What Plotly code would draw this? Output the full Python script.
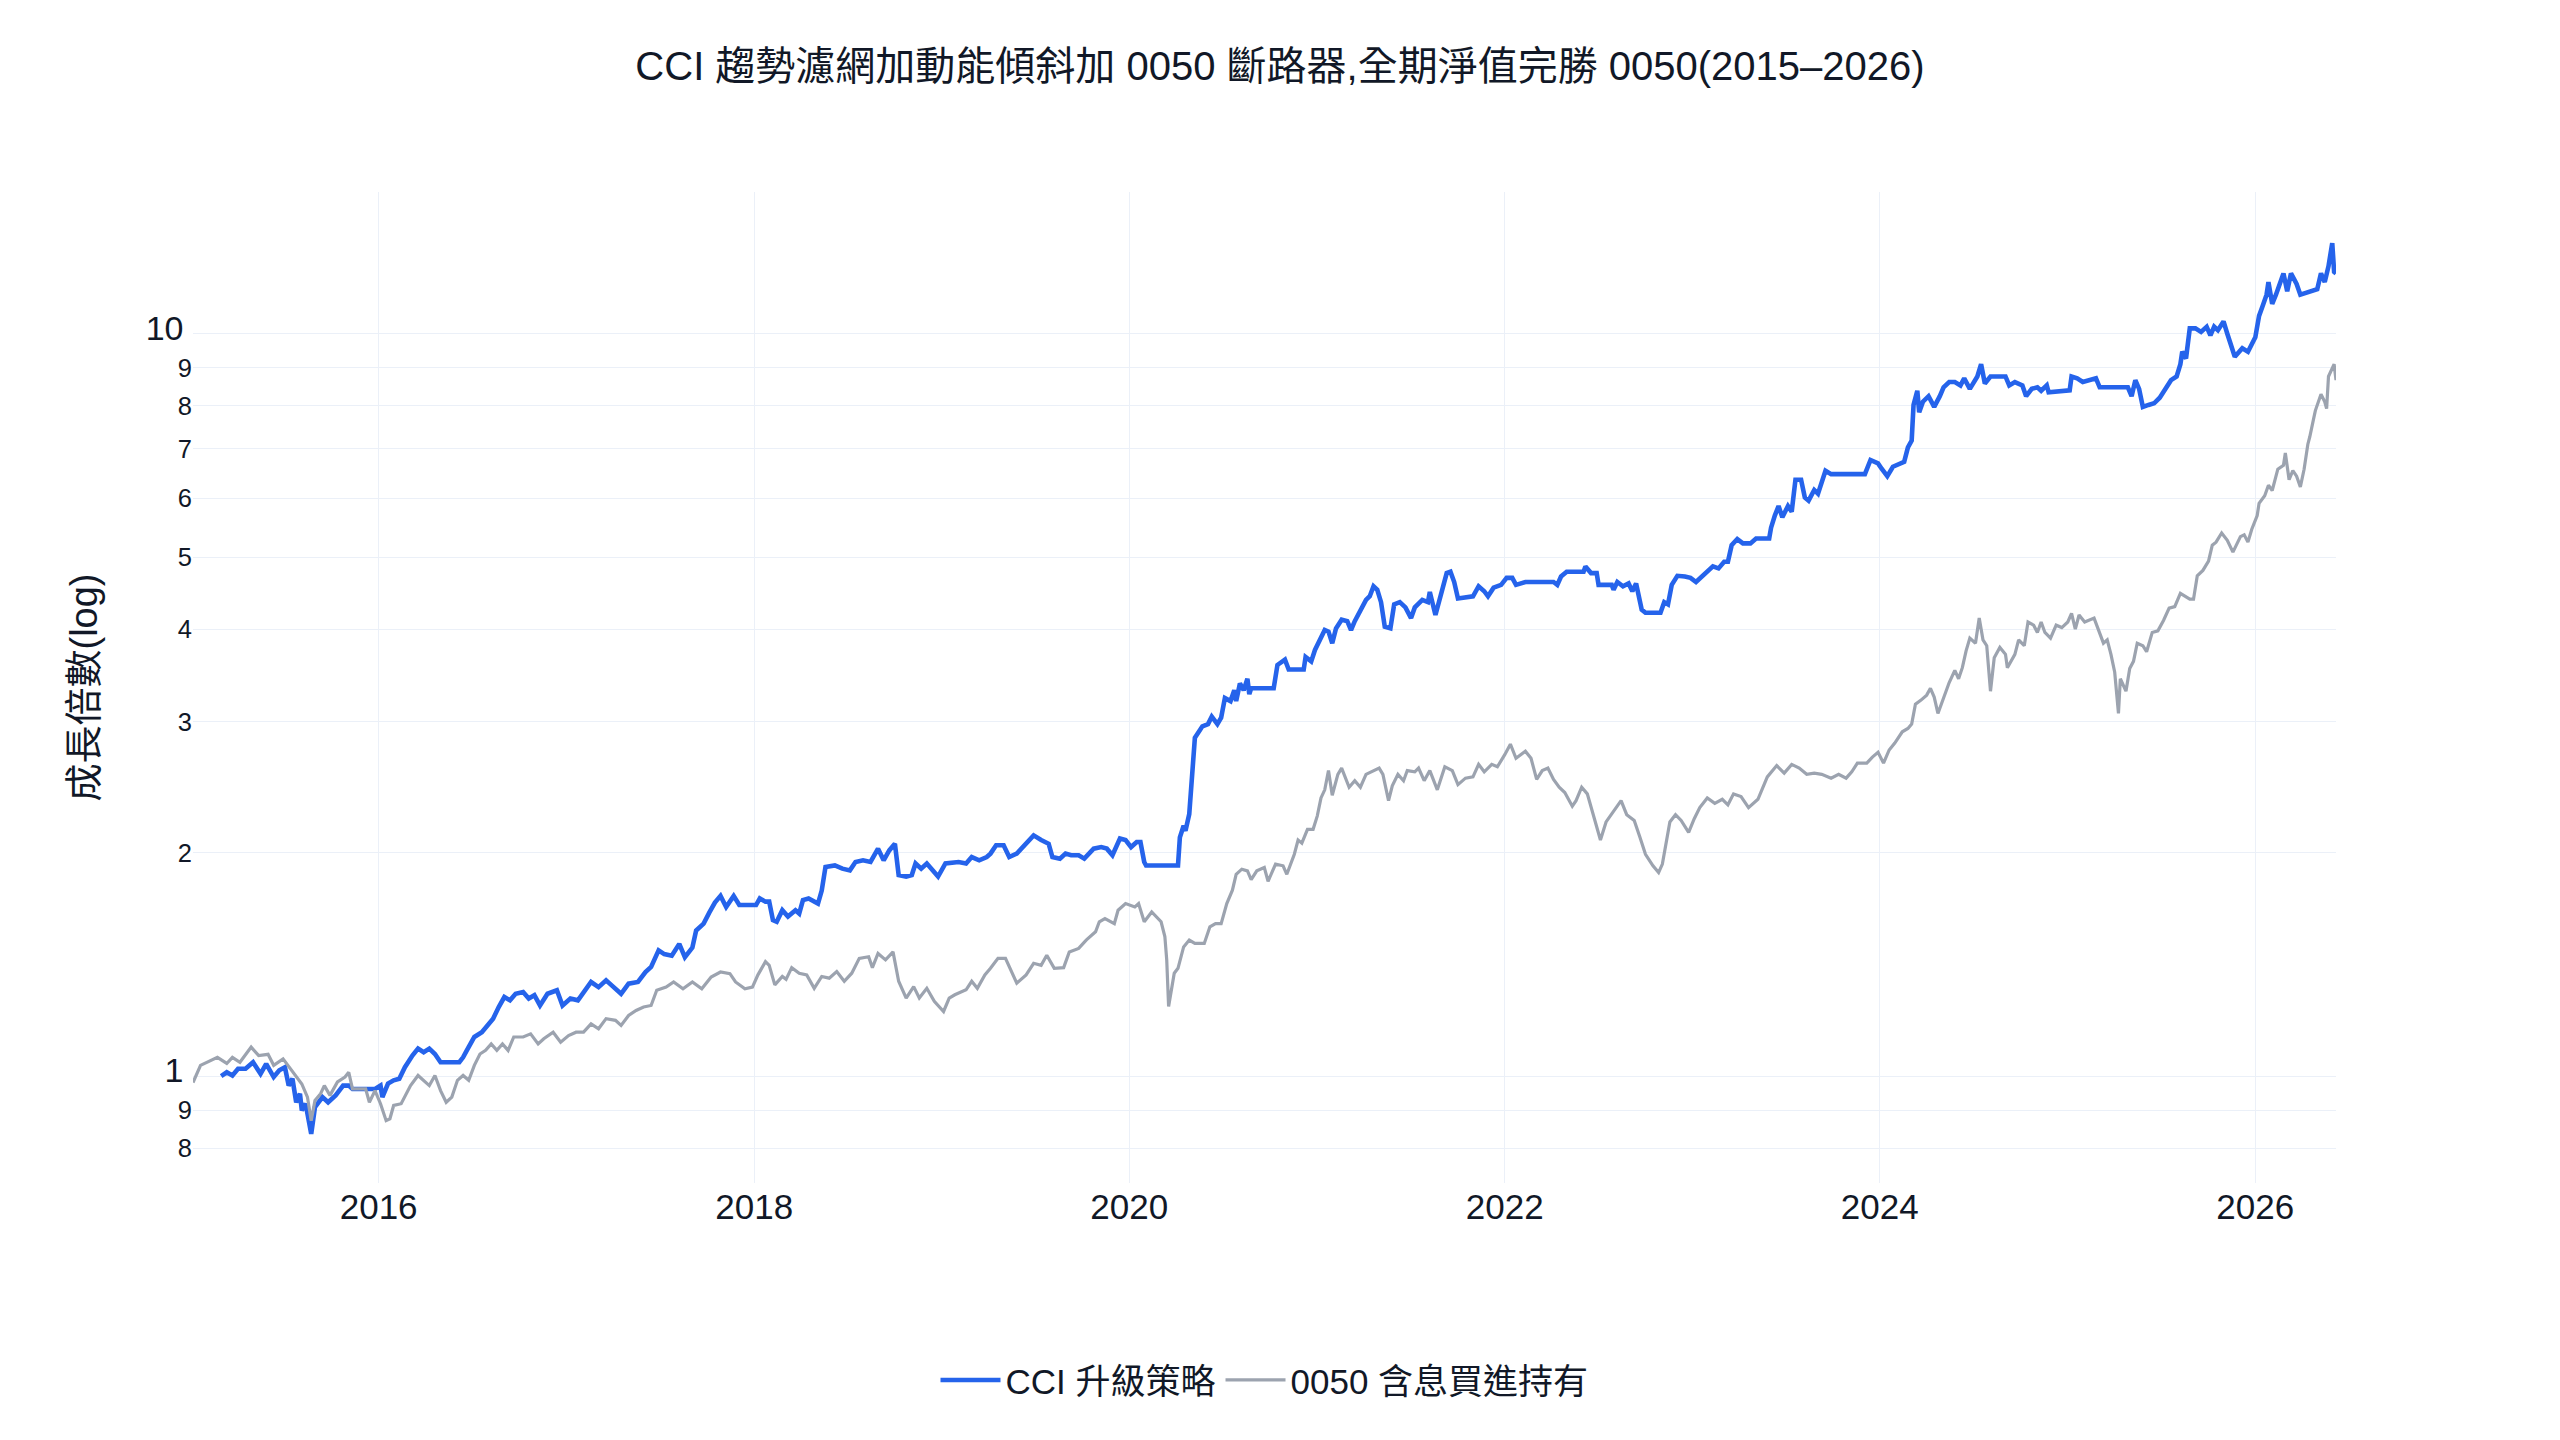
import datetime as dt

import plotly.graph_objects as go

# 時間以「十進位年份」記錄,數值為成長倍數(起點 = 1)
cci_t = [
    2015.16, 2015.19, 2015.22, 2015.25, 2015.29, 2015.33, 2015.37, 2015.40, 2015.44, 2015.47,
    2015.50, 2015.52, 2015.54, 2015.56, 2015.58, 2015.59, 2015.61, 2015.64, 2015.66, 2015.70,
    2015.73, 2015.77, 2015.81, 2015.84, 2015.86, 2015.98, 2016.01, 2016.02, 2016.05, 2016.08,
    2016.11, 2016.14, 2016.18, 2016.21, 2016.24, 2016.27, 2016.30, 2016.33, 2016.43, 2016.45,
    2016.47, 2016.51, 2016.55, 2016.58, 2016.61, 2016.64, 2016.67, 2016.70, 2016.73, 2016.77,
    2016.80, 2016.83, 2016.86, 2016.90, 2016.95, 2016.98, 2017.02, 2017.06, 2017.10, 2017.13,
    2017.17, 2017.21, 2017.24, 2017.29, 2017.33, 2017.38, 2017.42, 2017.45, 2017.49, 2017.52,
    2017.56, 2017.60, 2017.63, 2017.67, 2017.69, 2017.73, 2017.76, 2017.79, 2017.82, 2017.85,
    2017.89, 2017.92, 2018.01, 2018.03, 2018.06, 2018.08, 2018.10, 2018.12, 2018.15, 2018.18,
    2018.22, 2018.24, 2018.26, 2018.29, 2018.34, 2018.36, 2018.38, 2018.43, 2018.47, 2018.51,
    2018.54, 2018.58, 2018.62, 2018.66, 2018.69, 2018.72, 2018.75, 2018.77, 2018.81, 2018.84,
    2018.86, 2018.89, 2018.92, 2018.95, 2018.98, 2019.02, 2019.06, 2019.09, 2019.13, 2019.16,
    2019.20, 2019.24, 2019.26, 2019.29, 2019.33, 2019.36, 2019.40, 2019.44, 2019.46, 2019.49,
    2019.53, 2019.57, 2019.59, 2019.63, 2019.66, 2019.69, 2019.73, 2019.76, 2019.81, 2019.85,
    2019.88, 2019.91, 2019.95, 2019.98, 2020.01, 2020.04, 2020.06, 2020.08, 2020.09, 2020.26,
    2020.27, 2020.29, 2020.30, 2020.32, 2020.35, 2020.37, 2020.39, 2020.42, 2020.44, 2020.47,
    2020.49, 2020.51, 2020.54, 2020.56, 2020.57, 2020.59, 2020.61, 2020.63, 2020.64, 2020.65,
    2020.77, 2020.79, 2020.83, 2020.85, 2020.93, 2020.94, 2020.97, 2020.99, 2021.02, 2021.04,
    2021.06, 2021.08, 2021.10, 2021.13, 2021.16, 2021.18, 2021.20, 2021.23, 2021.26, 2021.28,
    2021.30, 2021.32, 2021.34, 2021.36, 2021.39, 2021.41, 2021.44, 2021.47, 2021.50, 2021.52,
    2021.56, 2021.59, 2021.60, 2021.63, 2021.66, 2021.69, 2021.71, 2021.73, 2021.75, 2021.83,
    2021.86, 2021.89, 2021.91, 2021.94, 2021.98, 2022.01, 2022.04, 2022.06, 2022.11, 2022.26,
    2022.28, 2022.30, 2022.33, 2022.42, 2022.43, 2022.46, 2022.49, 2022.50, 2022.57, 2022.58,
    2022.60, 2022.63, 2022.66, 2022.68, 2022.70, 2022.71, 2022.73, 2022.75, 2022.83, 2022.85,
    2022.87, 2022.89, 2022.92, 2022.96, 2022.99, 2023.02, 2023.05, 2023.08, 2023.11, 2023.14,
    2023.17, 2023.19, 2023.21, 2023.24, 2023.27, 2023.31, 2023.34, 2023.41, 2023.42, 2023.44,
    2023.46, 2023.48, 2023.51, 2023.53, 2023.55, 2023.58, 2023.60, 2023.62, 2023.65, 2023.67,
    2023.71, 2023.74, 2023.92, 2023.95, 2023.99, 2024.01, 2024.04, 2024.07, 2024.13, 2024.15,
    2024.17, 2024.18, 2024.20, 2024.21, 2024.23, 2024.26, 2024.29, 2024.32, 2024.34, 2024.37,
    2024.40, 2024.43, 2024.45, 2024.48, 2024.52, 2024.54, 2024.56, 2024.59, 2024.67, 2024.69,
    2024.72, 2024.76, 2024.78, 2024.81, 2024.84, 2024.86, 2024.89, 2024.90, 2025.01, 2025.02,
    2025.05, 2025.08, 2025.12, 2025.15, 2025.17, 2025.32, 2025.34, 2025.36, 2025.38, 2025.40,
    2025.43, 2025.46, 2025.49, 2025.53, 2025.55, 2025.58, 2025.60, 2025.61, 2025.63, 2025.65,
    2025.68, 2025.71, 2025.74, 2025.76, 2025.78, 2025.80, 2025.83, 2025.85, 2025.87, 2025.89,
    2025.93, 2025.96, 2026.00, 2026.02, 2026.04, 2026.06, 2026.07, 2026.09, 2026.11, 2026.15,
    2026.17, 2026.19, 2026.21, 2026.22, 2026.24, 2026.33, 2026.35, 2026.37, 2026.39, 2026.41,
    2026.42, 2026.43,
]
cci_v = [
    1.000, 1.012, 1.002, 1.023, 1.023, 1.044, 1.007, 1.039, 0.997, 1.018,
    1.028, 0.971, 0.992, 0.922, 0.947, 0.899, 0.918, 0.836, 0.908, 0.937,
    0.922, 0.942, 0.971, 0.971, 0.961, 0.961, 0.971, 0.937, 0.977, 0.987,
    0.992, 1.028, 1.066, 1.089, 1.077, 1.089, 1.071, 1.044, 1.044, 1.060,
    1.083, 1.129, 1.146, 1.170, 1.195, 1.239, 1.278, 1.265, 1.291, 1.298,
    1.272, 1.285, 1.245, 1.291, 1.305, 1.245, 1.272, 1.265, 1.305, 1.339,
    1.318, 1.346, 1.325, 1.291, 1.332, 1.339, 1.381, 1.403, 1.477, 1.460,
    1.453, 1.507, 1.446, 1.490, 1.571, 1.605, 1.660, 1.713, 1.749, 1.690,
    1.749, 1.700, 1.700, 1.735, 1.718, 1.718, 1.622, 1.614, 1.673, 1.640,
    1.673, 1.656, 1.726, 1.735, 1.708, 1.778, 1.913, 1.922, 1.903, 1.893,
    1.943, 1.953, 1.943, 2.025, 1.953, 2.014, 2.056, 1.866, 1.857, 1.866,
    1.934, 1.903, 1.934, 1.893, 1.857, 1.934, 1.943, 1.943, 1.934, 1.973,
    1.953, 1.973, 1.994, 2.046, 2.046, 1.973, 1.994, 2.046, 2.080, 2.110,
    2.080, 2.056, 1.973, 1.963, 1.994, 1.984, 1.984, 1.963, 2.025, 2.035,
    2.025, 1.984, 2.090, 2.080, 2.035, 2.067, 2.067, 1.943, 1.922, 1.922,
    2.097, 2.174, 2.140, 2.254, 2.856, 2.900, 2.960, 2.980, 3.050, 2.980,
    3.040, 3.230, 3.200, 3.310, 3.200, 3.380, 3.310, 3.430, 3.270, 3.330,
    3.330, 3.580, 3.640, 3.530, 3.530, 3.670, 3.620, 3.750, 3.890, 3.990,
    3.970, 3.830, 4.010, 4.120, 4.100, 3.990, 4.100, 4.230, 4.380, 4.430,
    4.570, 4.520, 4.350, 4.030, 4.010, 4.320, 4.350, 4.280, 4.140, 4.280,
    4.380, 4.350, 4.490, 4.180, 4.470, 4.760, 4.780, 4.630, 4.400, 4.430,
    4.570, 4.500, 4.430, 4.550, 4.590, 4.690, 4.690, 4.590, 4.630, 4.630,
    4.590, 4.710, 4.780, 4.780, 4.860, 4.760, 4.760, 4.590, 4.590, 4.520,
    4.630, 4.570, 4.610, 4.500, 4.610, 4.500, 4.250, 4.210, 4.210, 4.350,
    4.320, 4.590, 4.720, 4.710, 4.690, 4.630, 4.710, 4.780, 4.860, 4.830,
    4.930, 4.930, 5.190, 5.290, 5.220, 5.220, 5.300, 5.300, 5.480, 5.690,
    5.860, 5.660, 5.860, 5.760, 6.360, 6.360, 6.020, 5.960, 6.160, 6.090,
    6.540, 6.470, 6.470, 6.760, 6.690, 6.580, 6.430, 6.620, 6.720, 7.030,
    7.180, 8.020, 8.380, 7.840, 8.100, 8.240, 7.970, 8.240, 8.470, 8.610,
    8.610, 8.520, 8.710, 8.430, 8.760, 9.100, 8.570, 8.760, 8.760, 8.520,
    8.610, 8.520, 8.240, 8.430, 8.470, 8.380, 8.520, 8.340, 8.390, 8.760,
    8.710, 8.610, 8.660, 8.710, 8.470, 8.470, 8.240, 8.660, 8.430, 7.970,
    8.020, 8.060, 8.200, 8.520, 8.660, 8.760, 9.100, 9.460, 9.260, 10.17,
    10.17, 10.06, 10.22, 9.950, 10.22, 10.11, 10.39, 10.00, 9.670, 9.310,
    9.560, 9.460, 9.890, 10.57, 10.92, 11.29, 11.74, 10.97, 11.29, 12.06,
    11.41, 12.06, 11.80, 11.67, 11.29, 11.48, 12.06, 11.74, 12.33, 13.25,
    12.12, 12.06,
]

etf_t = [
    2015.01, 2015.05, 2015.14, 2015.19, 2015.22, 2015.26, 2015.32, 2015.36, 2015.41, 2015.44,
    2015.49, 2015.53, 2015.56, 2015.59, 2015.62, 2015.64, 2015.66, 2015.69, 2015.71, 2015.74,
    2015.78, 2015.82, 2015.84, 2015.86, 2015.90, 2015.93, 2015.95, 2015.98, 2016.01, 2016.04,
    2016.06, 2016.08, 2016.12, 2016.15, 2016.17, 2016.21, 2016.24, 2016.27, 2016.30, 2016.33,
    2016.36, 2016.39, 2016.42, 2016.45, 2016.48, 2016.51, 2016.54, 2016.57, 2016.60, 2016.63,
    2016.66, 2016.69, 2016.72, 2016.77, 2016.81, 2016.85, 2016.88, 2016.93, 2016.97, 2017.01,
    2017.05, 2017.09, 2017.13, 2017.17, 2017.21, 2017.26, 2017.29, 2017.33, 2017.37, 2017.41,
    2017.45, 2017.48, 2017.53, 2017.57, 2017.62, 2017.67, 2017.72, 2017.77, 2017.82, 2017.87,
    2017.90, 2017.95, 2017.99, 2018.02, 2018.06, 2018.08, 2018.11, 2018.15, 2018.17, 2018.20,
    2018.24, 2018.28, 2018.32, 2018.36, 2018.40, 2018.44, 2018.48, 2018.52, 2018.56, 2018.61,
    2018.63, 2018.66, 2018.70, 2018.74, 2018.77, 2018.81, 2018.85, 2018.88, 2018.92, 2018.96,
    2019.01, 2019.04, 2019.07, 2019.13, 2019.16, 2019.19, 2019.23, 2019.26, 2019.30, 2019.34,
    2019.40, 2019.45, 2019.49, 2019.53, 2019.56, 2019.60, 2019.65, 2019.68, 2019.73, 2019.77,
    2019.82, 2019.84, 2019.87, 2019.92, 2019.94, 2019.98, 2020.03, 2020.05, 2020.08, 2020.12,
    2020.17, 2020.19, 2020.20, 2020.21, 2020.24, 2020.26, 2020.29, 2020.32, 2020.35, 2020.40,
    2020.43, 2020.46, 2020.49, 2020.52, 2020.55, 2020.57, 2020.60, 2020.63, 2020.65, 2020.68,
    2020.72, 2020.74, 2020.78, 2020.82, 2020.84, 2020.88, 2020.90, 2020.92, 2020.95, 2020.98,
    2021.00, 2021.02, 2021.04, 2021.06, 2021.08, 2021.11, 2021.13, 2021.17, 2021.20, 2021.23,
    2021.26, 2021.31, 2021.33, 2021.35, 2021.38, 2021.40, 2021.43, 2021.46, 2021.48, 2021.52,
    2021.54, 2021.57, 2021.60, 2021.64, 2021.68, 2021.72, 2021.75, 2021.79, 2021.83, 2021.86,
    2021.89, 2021.93, 2021.96, 2022.00, 2022.03, 2022.06, 2022.11, 2022.14, 2022.17, 2022.20,
    2022.23, 2022.26, 2022.29, 2022.32, 2022.36, 2022.38, 2022.41, 2022.44, 2022.46, 2022.49,
    2022.51, 2022.54, 2022.58, 2022.62, 2022.65, 2022.69, 2022.72, 2022.75, 2022.79, 2022.82,
    2022.84, 2022.86, 2022.88, 2022.91, 2022.94, 2022.98, 2023.01, 2023.04, 2023.08, 2023.12,
    2023.16, 2023.19, 2023.22, 2023.26, 2023.30, 2023.35, 2023.40, 2023.45, 2023.49, 2023.53,
    2023.57, 2023.61, 2023.65, 2023.69, 2023.74, 2023.78, 2023.82, 2023.85, 2023.88, 2023.93,
    2023.96, 2023.99, 2024.02, 2024.05, 2024.08, 2024.12, 2024.15, 2024.17, 2024.19, 2024.22,
    2024.25, 2024.27, 2024.29, 2024.31, 2024.34, 2024.37, 2024.40, 2024.42, 2024.44, 2024.46,
    2024.48, 2024.51, 2024.53, 2024.55, 2024.57, 2024.59, 2024.61, 2024.64, 2024.67, 2024.68,
    2024.72, 2024.74, 2024.77, 2024.79, 2024.82, 2024.84, 2024.86, 2024.88, 2024.91, 2024.94,
    2024.97, 2025.00, 2025.02, 2025.04, 2025.06, 2025.09, 2025.14, 2025.17, 2025.19, 2025.21,
    2025.23, 2025.25, 2025.27, 2025.28, 2025.31, 2025.33, 2025.35, 2025.37, 2025.40, 2025.42,
    2025.45, 2025.48, 2025.51, 2025.54, 2025.57, 2025.60, 2025.62, 2025.65, 2025.67, 2025.69,
    2025.72, 2025.75, 2025.77, 2025.79, 2025.82, 2025.85, 2025.88, 2025.92, 2025.94, 2025.96,
    2025.98, 2026.01, 2026.02, 2026.05, 2026.07, 2026.09, 2026.12, 2026.15, 2026.16, 2026.18,
    2026.20, 2026.22, 2026.24, 2026.26, 2026.28, 2026.29, 2026.31, 2026.32, 2026.35, 2026.37,
    2026.38, 2026.39, 2026.42, 2026.43,
]
etf_v = [
    0.980, 1.034, 1.060, 1.040, 1.060, 1.044, 1.094, 1.066, 1.070, 1.034,
    1.055, 1.023, 0.997, 0.976, 0.937, 0.871, 0.927, 0.947, 0.971, 0.942,
    0.982, 0.997, 1.012, 0.961, 0.961, 0.961, 0.922, 0.956, 0.918, 0.871,
    0.876, 0.913, 0.918, 0.947, 0.971, 1.002, 0.987, 0.971, 1.002, 0.956,
    0.922, 0.937, 0.987, 1.002, 0.987, 1.034, 1.071, 1.083, 1.105, 1.083,
    1.105, 1.083, 1.129, 1.129, 1.140, 1.105, 1.123, 1.146, 1.111, 1.134,
    1.146, 1.146, 1.176, 1.158, 1.195, 1.189, 1.170, 1.207, 1.226, 1.239,
    1.245, 1.305, 1.318, 1.339, 1.311, 1.339, 1.311, 1.360, 1.381, 1.374,
    1.339, 1.311, 1.318, 1.369, 1.426, 1.410, 1.327, 1.362, 1.350, 1.400,
    1.376, 1.369, 1.313, 1.362, 1.355, 1.383, 1.342, 1.376, 1.441, 1.448,
    1.400, 1.463, 1.434, 1.470, 1.342, 1.274, 1.320, 1.274, 1.313, 1.261,
    1.222, 1.274, 1.287, 1.307, 1.342, 1.313, 1.369, 1.397, 1.441, 1.441,
    1.334, 1.369, 1.419, 1.410, 1.455, 1.397, 1.400, 1.470, 1.486, 1.525,
    1.565, 1.614, 1.630, 1.605, 1.673, 1.708, 1.690, 1.708, 1.614, 1.664,
    1.614, 1.542, 1.434, 1.241, 1.376, 1.397, 1.493, 1.525, 1.509, 1.509,
    1.589, 1.605, 1.605, 1.708, 1.780, 1.870, 1.900, 1.890, 1.840, 1.890,
    1.910, 1.830, 1.930, 1.920, 1.870, 1.990, 2.080, 2.060, 2.150, 2.150,
    2.240, 2.370, 2.430, 2.580, 2.390, 2.550, 2.600, 2.450, 2.500, 2.450,
    2.550, 2.590, 2.600, 2.550, 2.350, 2.460, 2.550, 2.500, 2.580, 2.570,
    2.600, 2.500, 2.580, 2.430, 2.610, 2.580, 2.470, 2.520, 2.530, 2.630,
    2.570, 2.630, 2.610, 2.710, 2.800, 2.680, 2.740, 2.680, 2.510, 2.580,
    2.600, 2.510, 2.450, 2.410, 2.310, 2.350, 2.450, 2.400, 2.300, 2.160,
    2.080, 2.200, 2.270, 2.350, 2.250, 2.210, 2.100, 1.990, 1.920, 1.880,
    1.930, 2.050, 2.200, 2.250, 2.210, 2.130, 2.220, 2.300, 2.370, 2.330,
    2.360, 2.320, 2.400, 2.380, 2.300, 2.360, 2.530, 2.620, 2.560, 2.630,
    2.600, 2.550, 2.560, 2.550, 2.520, 2.550, 2.520, 2.570, 2.640, 2.640,
    2.690, 2.730, 2.640, 2.750, 2.810, 2.910, 2.940, 2.980, 3.170, 3.210,
    3.260, 3.330, 3.240, 3.080, 3.240, 3.390, 3.520, 3.430, 3.550, 3.740,
    3.890, 3.830, 4.140, 3.870, 3.800, 3.300, 3.660, 3.780, 3.700, 3.550,
    3.700, 3.870, 3.800, 4.090, 4.050, 3.960, 4.090, 3.960, 3.890, 4.050,
    4.020, 4.090, 4.200, 4.000, 4.180, 4.090, 4.140, 3.960, 3.830, 3.870,
    3.700, 3.500, 3.080, 3.430, 3.300, 3.540, 3.620, 3.830, 3.800, 3.730,
    3.960, 3.980, 4.110, 4.270, 4.290, 4.470, 4.440, 4.390, 4.390, 4.720,
    4.800, 4.940, 5.190, 5.240, 5.390, 5.270, 5.080, 5.330, 5.360, 5.240,
    5.450, 5.690, 5.910, 6.050, 6.250, 6.150, 6.570, 6.650, 6.910, 6.360,
    6.540, 6.430, 6.220, 6.570, 7.100, 7.260, 7.670, 7.880, 8.290, 8.100,
    7.930, 8.760, 9.100, 8.660,
]


def to_date(t):
    # 十進位年份 -> 日期
    year = int(t)
    return dt.datetime(year, 1, 1) + dt.timedelta(days=(t - year) * 365.25)


FONT = "Liberation Sans, Arial, Noto Sans CJK TC, sans-serif"
INK = "#111827"

fig = go.Figure()

fig.add_trace(go.Scatter(
    x=[to_date(t) for t in cci_t],
    y=cci_v,
    mode="lines",
    name="CCI 升級策略",
    line=dict(color="#2563EB", width=4.6),
))

fig.add_trace(go.Scatter(
    x=[to_date(t) for t in etf_t],
    y=etf_v,
    mode="lines",
    name="0050 含息買進持有",
    line=dict(color="#9CA3AF", width=3.2),
))

fig.update_layout(
    template="plotly_white",
    width=2560,
    height=1440,
    font=dict(family=FONT, size=34, color=INK),
    title=dict(
        text="CCI 趨勢濾網加動能傾斜加 0050 斷路器,全期淨值完勝 0050(2015–2026)",
        x=0.5, xanchor="center", xref="container",
        y=0.954, yanchor="middle", yref="container",
        font=dict(size=40, color=INK),
    ),
    legend=dict(
        orientation="h",
        x=0.5, xanchor="center",
        y=-0.199, yanchor="middle",
        itemwidth=60,
        font=dict(size=35, color=INK),
    ),
    margin=dict(l=193, r=224, t=192, b=257),
    plot_bgcolor="white",
    paper_bgcolor="white",
)

fig.update_xaxes(
    type="date",
    dtick="M24",
    tickformat="%Y",
    tickfont=dict(size=35),
    showgrid=True,
    gridcolor="#EBF0F8",
    zeroline=False,
)

fig.update_yaxes(
    type="log",
    range=[-0.144, 1.191],
    dtick="D1",
    tickfont=dict(size=34),
    title=dict(text="成長倍數(log)", font=dict(size=38), standoff=36),
    showgrid=True,
    gridcolor="#EBF0F8",
    zeroline=False,
)

# 去掉頁面預設的 8px 邊距,讓圖剛好貼齊視窗;不顯示工具列
fig.write_html(
    "out.html",
    config={"displayModeBar": False},
    post_script="document.body.style.margin='0';",
)
